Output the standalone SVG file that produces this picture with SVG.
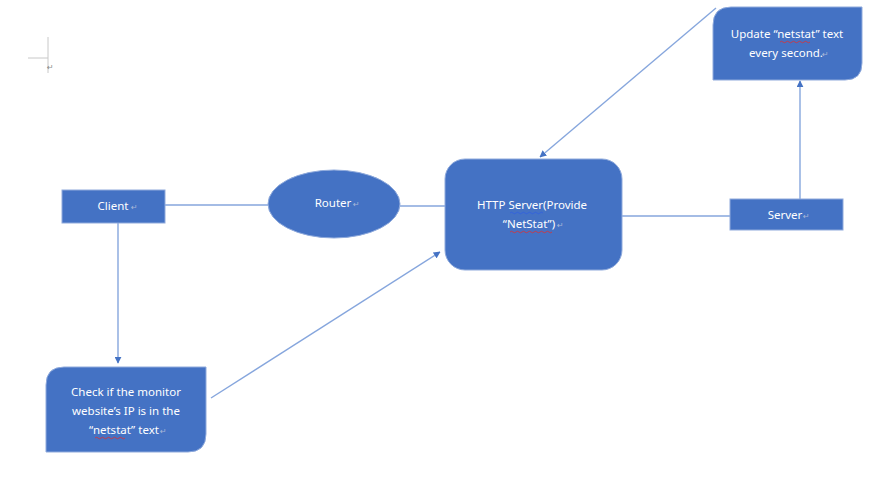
<svg xmlns="http://www.w3.org/2000/svg" width="874" height="491" viewBox="0 0 874 491">
<style>
.node{fill:#4472C4;stroke:#8FAADC;stroke-width:1}
.lbl{font-family:"Noto Sans","Liberation Sans",sans-serif;font-size:11.5px;fill:#FFFFFF;text-anchor:middle}
.mark{font-family:"DejaVu Sans",sans-serif;font-size:8px;fill:#A9B8D8}
.edge{stroke:#86A6DD;stroke-width:1.4;fill:none}
.sq{stroke:#E03030;stroke-width:0.8;fill:none}
.sqb{stroke:#3060E0;stroke-width:0.8;fill:none}
</style>
<defs>
<marker id="ah" viewBox="0 0 10 10" refX="9" refY="5" markerWidth="7" markerHeight="7" orient="auto" markerUnits="userSpaceOnUse">
<path d="M0,0 L10,5 L0,10 z" fill="#4472C4"/>
</marker>
</defs>
<rect width="874" height="491" fill="#FFFFFF"/>
<g id="corner-mark">
<path d="M48,37 V73 M48,58 H28" stroke="#C8C8C8" stroke-width="1" fill="none"/>
<text class="mark" x="47" y="70" style="fill:#8A8A8A">↵</text>
</g>
<g id="connectors">
<line class="edge" x1="165" y1="205" x2="268" y2="205"/>
<line class="edge" x1="400" y1="206" x2="445" y2="206"/>
<line class="edge" x1="622" y1="216" x2="730" y2="216"/>
<line class="edge" x1="800" y1="199" x2="800" y2="81" marker-end="url(#ah)"/>
<line class="edge" x1="716" y1="8" x2="540" y2="157" marker-end="url(#ah)"/>
<line class="edge" x1="118" y1="223" x2="118" y2="363" marker-end="url(#ah)"/>
<line class="edge" x1="211" y1="398" x2="440" y2="252" marker-end="url(#ah)"/>
</g>
<g id="client">
<rect class="node" x="62" y="190" width="103" height="33"/>
<text class="lbl" x="113" y="210">Client</text>
<text class="mark" x="131" y="210">↵</text>
</g>
<g id="router">
<ellipse class="node" cx="334" cy="204" rx="66" ry="34"/>
<text class="lbl" x="333" y="207">Router</text>
<text class="mark" x="353" y="207">↵</text>
</g>
<g id="http-server">
<rect class="node" x="445" y="159" width="177" height="111" rx="20" ry="20"/>
<text class="lbl" x="532" y="209">HTTP Server(Provide</text>
<text class="lbl" x="529" y="228">“NetStat”)</text>
<text class="mark" x="557" y="228">↵</text>
<path class="sqb" d="M510,213 q1.5,-1.5 3,0 t3,0 t3,0 t3,0 t3,0 t3,0 t3,0 t3,0 t3,0 t3,0 t3,0"/>
<path class="sq" d="M510,232 q1.5,-1.5 3,0 t3,0 t3,0 t3,0 t3,0 t3,0 t3,0 t3,0 t3,0 t3,0 t3,0 t3,0 t3,0 t3,0"/>
</g>
<g id="server">
<rect class="node" x="730" y="199" width="113" height="31"/>
<text class="lbl" x="785" y="219">Server</text>
<text class="mark" x="803" y="219">↵</text>
</g>
<g id="update">
<path class="node" d="M731,7 H862 V63 Q862,80 845,80 H713 V25 Q713,7 731,7 Z"/>
<text class="lbl" x="787" y="38">Update “netstat” text</text>
<text class="lbl" x="786" y="57">every second.</text>
<text class="mark" x="822" y="57">↵</text>
<path class="sq" d="M780,42 q1.5,-1.5 3,0 t3,0 t3,0 t3,0 t3,0 t3,0 t3,0 t3,0 t3,0 t3,0"/>
</g>
<g id="check">
<path class="node" d="M64,367 H206 V434 Q206,452 188,452 H46 V385 Q46,367 64,367 Z"/>
<text class="lbl" x="126" y="396">Check if the monitor</text>
<text class="lbl" x="126" y="415">website’s IP is in the</text>
<text class="lbl" x="124" y="434">“netstat” text</text>
<text class="mark" x="160" y="434">↵</text>
<path class="sq" d="M95,438 q1.5,-1.5 3,0 t3,0 t3,0 t3,0 t3,0 t3,0 t3,0 t3,0 t3,0 t3,0"/>
</g>
</svg>
